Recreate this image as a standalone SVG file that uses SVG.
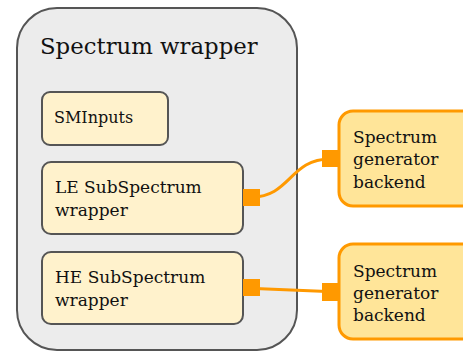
<svg xmlns="http://www.w3.org/2000/svg" width="463" height="352" viewBox="0 0 463 352">
<style>
text { font-family: "DejaVu Serif", "Noto Serif", serif; fill: #111; }
.inner { fill: #fff2cc; stroke: #555; stroke-width: 2; }
.back { fill: #ffe599; stroke: #ff9900; stroke-width: 3; }
.conn { fill: none; stroke: #ff9900; stroke-width: 3; }
.end { fill: #ff9900; }
.t { font-size: 17px; }
</style>
<g id="wrapper">
<rect x="17" y="8" width="280" height="342" rx="40" fill="#ececec" stroke="#555" stroke-width="2"/>
<text x="40" y="54" font-size="22.8">Spectrum wrapper</text>
</g>
<g id="sminputs">
<rect class="inner" x="42" y="92" width="126" height="53" rx="8"/>
<text x="54" y="123" font-size="16">SMInputs</text>
</g>
<g id="le">
<rect class="inner" x="42" y="162" width="201" height="72" rx="9"/>
<text class="t" x="55" y="193">LE SubSpectrum</text>
<text class="t" x="55" y="216">wrapper</text>
</g>
<g id="he">
<rect class="inner" x="42" y="252" width="201" height="72" rx="9"/>
<text class="t" x="55" y="283">HE SubSpectrum</text>
<text class="t" x="55" y="306">wrapper</text>
</g>
<g id="backend1">
<rect class="back" x="339" y="111" width="140" height="95" rx="14"/>
<text class="t" x="353" y="143">Spectrum</text>
<text class="t" x="353" y="165">generator</text>
<text class="t" x="353" y="188">backend</text>
</g>
<g id="backend2">
<rect class="back" x="339" y="244" width="140" height="95" rx="14"/>
<text class="t" x="353" y="277">Spectrum</text>
<text class="t" x="353" y="299">generator</text>
<text class="t" x="353" y="321">backend</text>
</g>
<g id="connectors">
<path class="conn" d="M243,197 L252,197 C290,197 290,159 330,159 L339,159"/>
<rect class="end" x="243" y="189" width="17" height="17"/>
<rect class="end" x="322" y="150" width="17" height="17"/>
<path class="conn" d="M243,288 L339,292"/>
<rect class="end" x="243" y="279" width="17" height="17"/>
<rect class="end" x="322" y="283" width="17" height="18"/>
</g>
</svg>
